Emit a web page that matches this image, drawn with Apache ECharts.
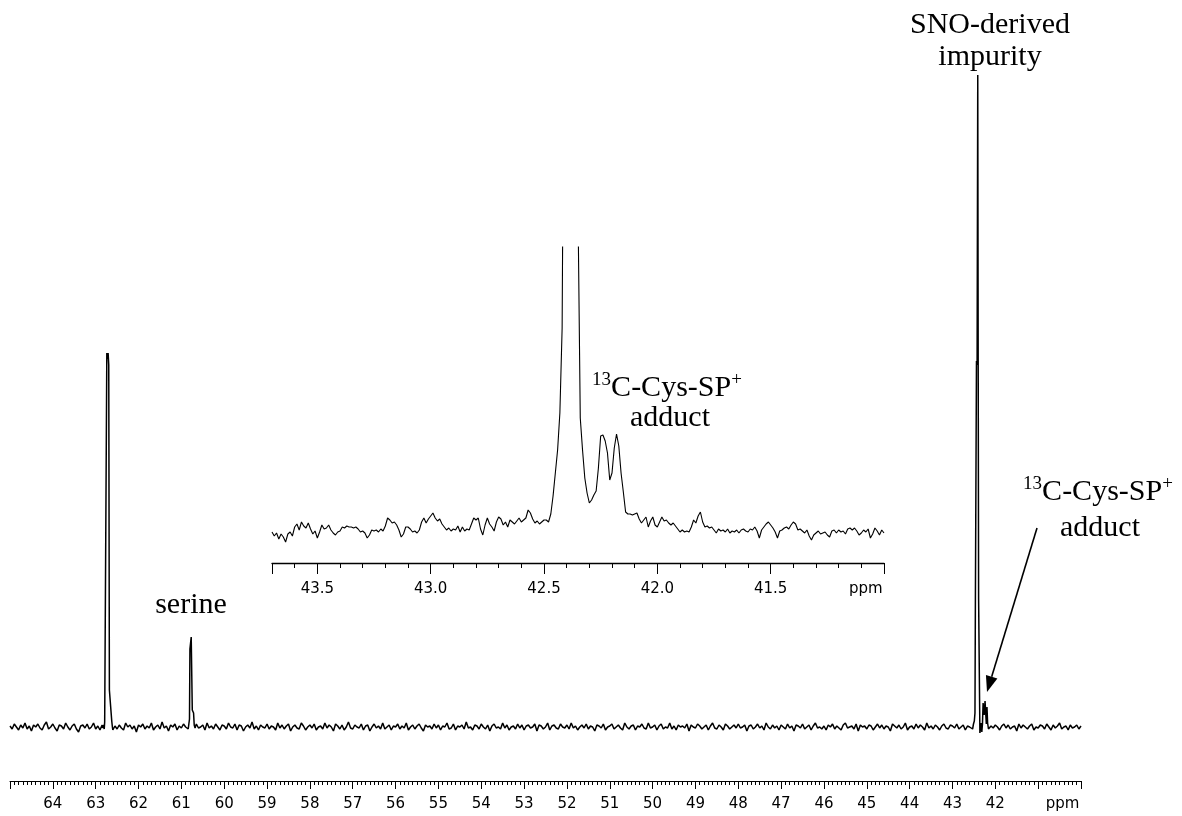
<!DOCTYPE html>
<html><head><meta charset="utf-8">
<script src="https://cdn.jsdelivr.net/npm/echarts@6/dist/echarts.min.js"></script>
<style>html,body{margin:0;padding:0;background:#fff}#c{width:1182px;height:816px}</style>
</head><body><div id="c"></div>
<script>
// ---- tick labels ----
const mainTickLabels = [64,63,62,61,60,59,58,57,56,55,54,53,52,51,50,49,48,47,46,45,44,43,42];
const insetTickLabels = [43.5,43.0,42.5,42.0,41.5];
const unitLabel = 'ppm';

// ---- main spectrum: baseline noise sampled every 0.05 ppm from 65.00 ppm ----
const mainStart = 65.00, mainStep = 0.05;
const mainNoise = [
 1,-2,3,0,-3,2,-1,4,-2,1,-4,2,0,3,-1,-3,2,5,-2,0,
 3,-1,-4,2,1,-2,4,0,-3,1,3,-2,-5,1,2,-1,3,-2,0,4,
 -2,1,-3,2,5,-1,0,-4,3,1,-2,2,-1,-3,4,0,2,-2,1,-5,
 2,0,3,-2,1,-1,4,-3,0,2,-2,5,-1,1,-4,2,0,3,-3,1,
 -1,3,0,-2,2,-4,1,3,-1,0,2,-3,4,-1,1,-2,3,0,-3,2,
 1,-2,4,0,-1,3,-3,2,1,-4,0,2,-1,5,-2,1,-3,2,0,-1,
 3,-2,1,0,-3,4,-1,2,-2,1,3,-4,0,2,-1,-2,4,1,-3,0,
 2,-1,3,-3,0,1,-2,4,-1,2,0,-4,3,1,-2,2,-3,0,5,-1,
 -2,2,0,-1,3,-3,1,2,-4,0,3,-1,1,-2,4,-2,0,2,-3,1,
 0,3,-2,1,-1,4,-3,0,2,-2,1,3,-1,-4,2,0,1,-2,3,-1,
 2,-3,1,0,4,-2,-1,3,-3,1,0,2,-2,5,-1,0,-3,2,1,-2,
 3,0,-2,2,-4,1,3,-1,0,-2,4,-1,2,-3,0,1,-2,3,-1,2,
 -3,1,2,-1,0,3,-4,2,1,-2,0,4,-3,1,2,-1,-2,3,0,-1,
 2,-2,4,-1,1,-3,0,2,-1,3,-2,1,0,-4,2,1,-1,3,-3,0,
 1,3,-2,0,2,-1,-3,4,0,-2,1,2,-3,1,0,3,-1,-2,4,-1,
 0,2,-3,1,3,-2,0,-1,4,-2,1,-3,2,0,1,-1,3,-4,2,0,
 -1,3,1,-2,0,2,-3,1,4,-1,-2,2,0,-3,3,1,-2,0,2,-1,
 3,-1,0,2,-4,1,2,-2,0,3,-1,1,-3,4,0,-2,2,-1,1,-3,
 2,0,-2,3,-1,1,-4,2,1,-1,3,-2,0,2,-3,1,4,-1,0,-2,
 1,-3,2,0,3,-2,1,-1,-3,2,4,-1,0,1,-2,3,-4,2,0,1,
 -2,2,1,-3,0,3,-1,2,-2,1,0,-4,3,1,-1,2,-2,0,4,-3,
 0,1,-2,3,-1,2,0,-3,4,-1,1,-2,2,0,-3,1,3,-1,-2,2,
 1,-1,3,-2,0,2,-3,1,0,4,-2,1,-1,2,-3,0,3,-2,1,-1,
 2,0,-3,1,3,-1,2,-2,0,1,-4,3,-1,2,0,-2,1,3,-3,0,
 -1,2,1,-2,3,0,-3,2,-1,1,4,-2,0,1,-3,2,-1,0,2,-2,
 1
];
// ---- main spectrum peaks [ppm, intensity] ----
const peakC62 = [[62.84,-1],[62.82,2],[62.80,-2],[62.79,5],[62.785,40],[62.765,42],[62.755,40],[62.74,374],[62.725,368],[62.71,374],[62.695,362],[62.68,37],[62.66,38],[62.64,37],[62.625,6],[62.61,0],[62.60,-3]];
const peakSerine = [[60.86,1],[60.84,-2],[60.825,3],[60.81,8],[60.80,78],[60.785,80],[60.77,90],[60.755,88],[60.745,17],[60.73,17],[60.715,14],[60.70,2],[60.68,-1]];
const peakSNO = [[42.56,1],[42.53,-2],[42.51,3],[42.49,6],[42.475,14],[42.465,128],[42.45,130],[42.44,366],[42.425,362],[42.41,652],[42.40,366],[42.39,128],[42.375,126],[42.36,-6],[42.345,-2],[42.33,4],[42.315,-5],[42.30,3],[42.285,24],[42.27,26],[42.26,12],[42.25,10],[42.24,26],[42.225,24],[42.21,3],[42.195,20],[42.18,4],[42.16,-2]];

// ---- inset spectrum: intensity sampled every 0.01 ppm from 43.70 ppm ----
const insetStart = 43.70, insetStep = 0.01;
const insetIntensity = [
 -4,-8,-5,-11,-6,-9,-14,-6,-4,-8,
 1,4,-2,6,2,0,5,-1,-6,-3,
 -10,-4,3,-1,0,3,-2,-5,-7,-4,
 -3,1,0,2,1,1,0,1,-1,-4,
 -3,-5,-10,-7,-2,-3,-2,-4,-1,-3,
 2,10,8,5,6,3,-2,-9,-6,1,
 1,-1,-4,-3,-5,-2,6,10,5,9,
 12,15,10,7,9,4,1,-2,0,-3,
 -1,-2,2,-4,1,-3,-1,-2,4,10,
 8,10,-1,-7,3,10,4,1,-3,6,
 11,9,3,6,1,8,6,4,7,10,
 6,8,10,18,15,9,5,7,4,6,
 8,8,6,14,32,55,78,115,200,600,
 1400,2300,2400,1500,700,320,110,78,50,35,
 25,28,33,37,60,92,93,87,75,48,
 55,80,94,82,55,36,16,14,14,13,
 14,15,9,5,8,11,1,7,11,3,
 1,6,11,7,8,5,3,5,2,-1,
 -4,-2,-4,-3,-4,1,8,5,12,16,
 6,1,2,0,1,-2,-5,-1,-3,-2,
 -4,-1,-5,-3,-4,-2,-5,-2,-1,-3,
 -4,-1,-2,1,-3,-10,-2,1,4,6,
 3,0,-4,-10,-3,-2,0,1,-1,3,
 6,4,-2,-1,-3,-5,-2,-8,-12,-7,
 -5,-3,-6,-5,-4,-7,-9,-3,-2,-5,
 -2,-4,-3,-6,-1,0,-2,0,-3,-7,
 -5,-2,-4,-1,-10,-6,0,-3,-7,-2,-5
];

// ---- build series data ----
const peakSets = [peakC62, peakSerine, peakSNO];
const windows = peakSets.map(a => [a[a.length-1][0]-0.005, a[0][0]+0.005]);
const mainData = [];
mainNoise.forEach((v,i) => {
  const p = +(mainStart - i*mainStep).toFixed(3);
  if (!windows.some(w => p >= w[0] && p <= w[1])) mainData.push([p, v]);
});
peakSets.forEach(a => a.forEach(d => mainData.push(d)));
mainData.sort((a,b) => b[0]-a[0]);
const insetData = insetIntensity.map((v,i) => [+(insetStart - i*insetStep).toFixed(3), v]);

const AXF = 'DejaVu Sans';
const SERIF = '"Liberation Serif", "Times New Roman", serif';
const chart = echarts.init(document.getElementById('c'), null, {renderer:'canvas'});

function axisCommon(tickLen, minorLen, lw, labels, unitPos, fmt, margin){
  return {
    axisLine:{show:true, onZero:false, lineStyle:{color:'#000', width:lw}},
    axisTick:{show:true, length:tickLen, lineStyle:{color:'#000', width:1}},
    minorTick:{show:true, length:minorLen, lineStyle:{color:'#000', width:1}},
    splitLine:{show:false}, minorSplitLine:{show:false},
    axisLabel:{show:true, customValues: labels.concat([unitPos]), color:'#000', fontFamily:AXF, fontSize:15, margin:margin,
      formatter: v => (Math.abs(v-unitPos) < 1e-6 ? unitLabel : fmt(v)), hideOverlap:false}
  };
}

// arrow geometry
const arrowStart = [1037, 528], arrowTip = [987, 692];
const dx = arrowTip[0]-arrowStart[0], dy = arrowTip[1]-arrowStart[1];
const L = Math.hypot(dx,dy), ux = dx/L, uy = dy/L;
const headLen = 16, headHalf = 6;
const bx = arrowTip[0]-headLen*ux, by = arrowTip[1]-headLen*uy;

function richLabel(x, y){
  return {type:'text', x:x, y:y, silent:true, style:{
    text:'{sup|13}{n|C-Cys-SP}{sup|+}',
    rich:{ n:{fontSize:30, fontFamily:SERIF, lineHeight:34, fill:'#000', color:'#000'},
           sup:{fontSize:19, fontFamily:SERIF, lineHeight:20, verticalAlign:'top', fill:'#000', color:'#000'} },
    align:'center', textAlign:'center', verticalAlign:'middle', textVerticalAlign:'middle', fill:'#000'}};
}
function plainText(txt, x, y){
  return {type:'text', x:x, y:y, silent:true, style:{text:txt, font:'30px ' + SERIF, fill:'#000',
    align:'center', textAlign:'center', verticalAlign:'middle', textVerticalAlign:'middle'}};
}

const option = {
  animation:false,
  backgroundColor:'#fff',
  grid:[{left:10, right:101, top:60, bottom:35}, {left:272, right:298, top:247, bottom:253}],
  xAxis:[
    Object.assign({gridIndex:0, type:'value', min:40, max:65, interval:1, inverse:true},
      axisCommon(8, 4, 1, mainTickLabels, 40.43, v => String(v), 16),
      {minorTick:{show:true, splitNumber:10, length:4, lineStyle:{color:'#000', width:1}}}),
    Object.assign({gridIndex:1, type:'value', min:41, max:43.7, interval:0.5, inverse:true},
      axisCommon(11, 5, 1.3, insetTickLabels, 41.08, v => v.toFixed(1), 19),
      {minorTick:{show:true, splitNumber:5, length:5, lineStyle:{color:'#000', width:1}}})
  ],
  yAxis:[
    {gridIndex:0, type:'value', min:-54, max:667, show:false, splitLine:{show:false}},
    {gridIndex:1, type:'value', min:-35, max:281, show:false, splitLine:{show:false}}
  ],
  series:[
    {type:'line', xAxisIndex:0, yAxisIndex:0, data:mainData, showSymbol:false, symbol:'none', clip:true,
     lineStyle:{color:'#000', width:1.5}, silent:true},
    {type:'line', xAxisIndex:1, yAxisIndex:1, data:insetData, showSymbol:false, symbol:'none', clip:true,
     lineStyle:{color:'#000', width:1.1}, silent:true}
  ],
  graphic:[
    plainText('SNO-derived', 990, 25),
    plainText('impurity', 990, 57),
    plainText('serine', 191, 605),
    richLabel(667, 388),
    plainText('adduct', 670, 418),
    richLabel(1098, 492),
    plainText('adduct', 1100, 528),
    {type:'line', silent:true, shape:{x1:arrowStart[0], y1:arrowStart[1], x2:bx, y2:by}, style:{stroke:'#000', lineWidth:1.6}},
    {type:'polygon', silent:true, shape:{points:[[arrowTip[0],arrowTip[1]],[bx+headHalf*uy, by-headHalf*ux],[bx-headHalf*uy, by+headHalf*ux]]}, style:{fill:'#000'}}
  ]
};
chart.setOption(option);
</script>
</body></html>
